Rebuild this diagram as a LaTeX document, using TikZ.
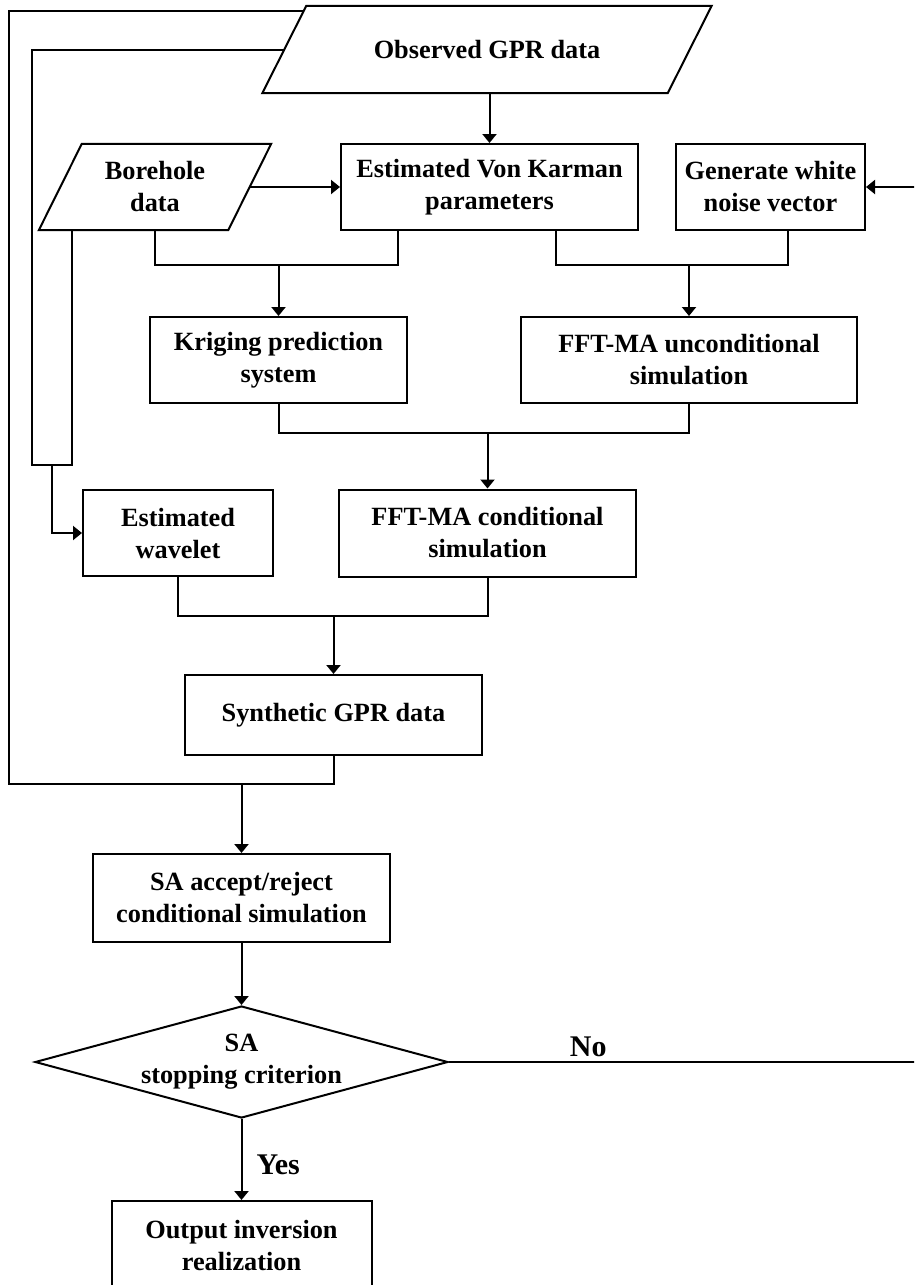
\documentclass[tikz,border=0pt]{standalone}
\usepackage{fontspec}
\setmainfont{Liberation Serif}
\usetikzlibrary{shapes.geometric,arrows.meta}

\tikzset{
  txt/.style={align=center, inner sep=0pt, font=\bfseries\fontsize{26.3}{32}\selectfont},
  box/.style={txt, draw, line width=2pt, minimum height=86pt},
  databox/.style={txt, minimum height=86pt},
  decbox/.style={draw, diamond, line width=2pt, inner sep=0pt, minimum width=413pt, minimum height=112pt},
  lbl/.style={inner sep=0pt, font=\bfseries\fontsize{30}{36}\selectfont},
  link/.style={line width=2pt},
  arr/.style={link, -{Triangle[length=9pt,width=14pt]}},
}

\begin{document}
\begin{tikzpicture}[x=1pt, y=-1pt]
\clip (0,0) rectangle (914,1285);

% inputs
\node[databox, minimum width=405pt, minimum height=87pt] (obs) at (487,49.5) {Observed GPR data};
\draw[link] ([xshift=-22pt]obs.south west) -- ([xshift=22pt]obs.north west) -- ([xshift=22pt]obs.north east) -- ([xshift=-22pt]obs.south east) -- cycle;
\node[databox, minimum width=189pt] (bore) at (155,187) {Borehole\\data};
\draw[link] ([xshift=-21.5pt]bore.south west) -- ([xshift=21.5pt]bore.north west) -- ([xshift=21.5pt]bore.north east) -- ([xshift=-21.5pt]bore.south east) -- cycle;
\node[box, minimum width=297pt] (vk) at (489.5,187) {Estimated Von Karman\\parameters};
\node[box, minimum width=189pt] (wn) at (770.5,187) {Generate white\\noise vector};

% simulation
\node[box, minimum width=257pt] (krig) at (278.5,360) {Kriging prediction\\system};
\node[box, minimum width=336pt] (unc) at (689,360) {FFT-MA unconditional\\simulation};
\node[box, minimum width=190pt] (wav) at (178,533) {Estimated\\wavelet};
\node[box, minimum width=297pt, minimum height=87pt] (cond) at (487.5,533) {FFT-MA conditional\\simulation};
\node[box, minimum width=297pt, minimum height=80pt] (syn) at (333.5,715) {Synthetic GPR data};

% annealing
\node[box, minimum width=297pt, minimum height=88pt] (acc) at (241.5,898) {SA accept/reject\\conditional simulation};
\node[decbox] (crit) at (241.5,1062) {};
\node[txt] (crittxt) at (crit.center) {SA\\stopping criterion};
\node[box, minimum width=260pt, minimum height=88pt] (out) at (241.5,1245) {Output inversion\\realization};

\coordinate (lpin) at (32,465);
\coordinate (wl) at (52,465);

\draw[arr] (obs.south -| vk.north) -- (vk.north);
\draw[arr] (bore.east) -- (vk.west);

\draw[link] (bore.south) -- ++(0,35) coordinate (j1) -| ([xshift=-91.5pt]vk.south);
\draw[arr] (j1 -| krig.north) -- (krig.north);
\draw[link] ([xshift=66.5pt]vk.south) -- ++(0,34) coordinate (j2) -| ([xshift=17.5pt]wn.south);
\draw[arr] (j2 -| unc.north) -- (unc.north);
\draw[link] (krig.south) -- ++(0,29) coordinate (j3) -| (unc.south);
\draw[arr] (j3 -| cond.north) -- (cond.north);
\draw[link] (wav.south) -- ++(0,39) coordinate (j4) -| (cond.south);
\draw[arr] (j4 -| syn.north) -- (syn.north);

% feedback loops
\draw[link] (obs.west) -| (lpin) -| ([xshift=11.5pt]bore.south west);
\draw[arr] (wl) |- (wav.west);
\draw[link] (syn.south) -- ++(0,28) coordinate (fb) -| (9,11) -- ([shift={(19.5pt,38.5pt)}]obs.west);
\draw[arr] (fb -| acc.north) -- (acc.north);

\draw[arr] (acc.south) -- (crit.north);
\draw[arr] (crit.south) -- node[lbl, right=14pt, pos=0.57] {Yes} (out.north);
\draw[arr] (crit.east) -- node[lbl, above=4pt, pos=0.29] {No} ++(480,0) |- (wn.east);
\end{tikzpicture}
\end{document}
